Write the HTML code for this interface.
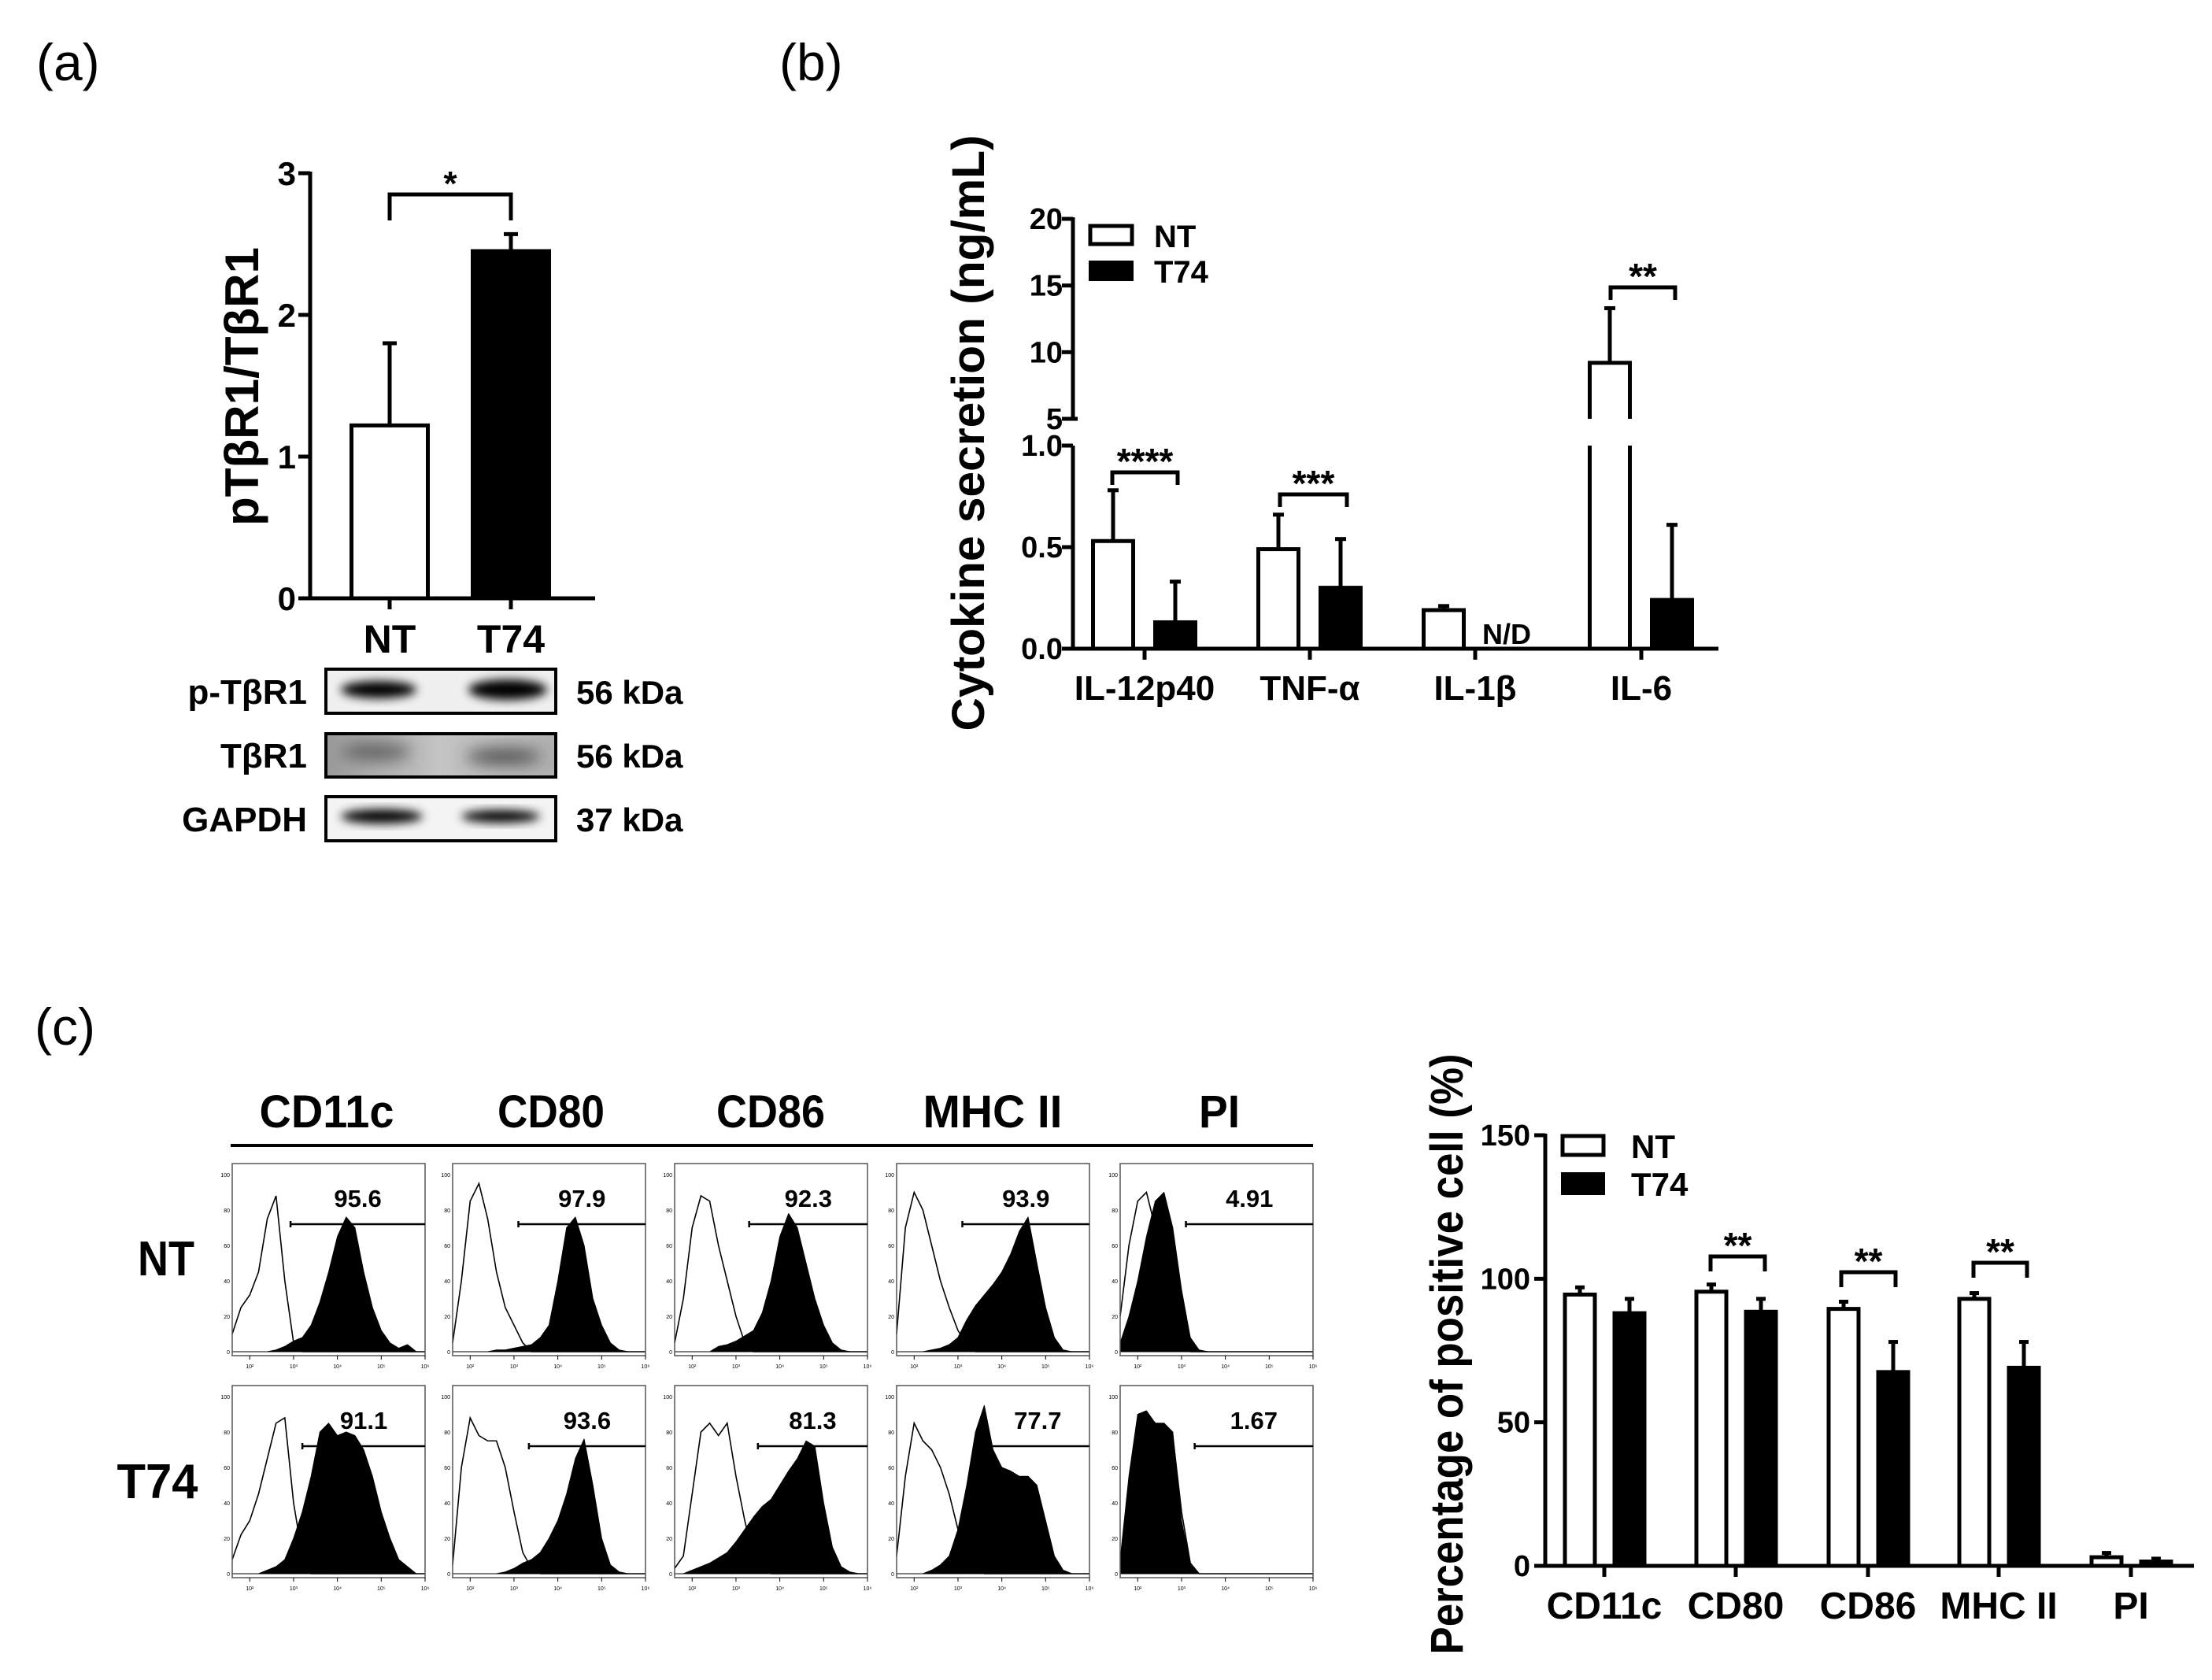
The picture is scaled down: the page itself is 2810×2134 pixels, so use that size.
<!DOCTYPE html>
<html><head><meta charset="utf-8"><style>
html,body{margin:0;padding:0;background:#fff;}
svg{display:block;}
text{font-family:"Liberation Sans",sans-serif;}
</style></head>
<body>
<svg id="fig" xmlns="http://www.w3.org/2000/svg" width="2810" height="2134" viewBox="0 0 2810 2134">
<defs>
<filter id="blur6" x="-20%" y="-50%" width="140%" height="200%"><feGaussianBlur stdDeviation="6"/></filter>
<filter id="blur10" x="-20%" y="-80%" width="140%" height="260%"><feGaussianBlur stdDeviation="10"/></filter>
<linearGradient id="g2" x1="0" x2="1" y1="0" y2="0"><stop offset="0" stop-color="#9a9a9a"/><stop offset="0.5" stop-color="#c4c4c4"/><stop offset="1" stop-color="#b0b0b0"/></linearGradient>
</defs>
<text x="46" y="102" font-size="66">(a)</text>
<text x="990" y="102" font-size="66">(b)</text>
<text x="44" y="1327" font-size="66">(c)</text>

<g>
<rect x="414" y="850" width="292" height="56" fill="#f0f0f0" stroke="#000" stroke-width="4"/>
<ellipse cx="481" cy="876" rx="48" ry="11" fill="#000" filter="url(#blur6)"/>
<ellipse cx="645" cy="876" rx="50" ry="13" fill="#000" filter="url(#blur6)"/>
<rect x="414" y="932" width="292" height="55" fill="url(#g2)" stroke="#000" stroke-width="4"/>
<ellipse cx="478" cy="955" rx="45" ry="9" fill="#555" filter="url(#blur10)"/>
<ellipse cx="640" cy="961" rx="48" ry="9" fill="#444" filter="url(#blur10)"/>
<rect x="414" y="1012" width="292" height="56" fill="#f4f4f4" stroke="#000" stroke-width="4"/>
<ellipse cx="485" cy="1037" rx="52" ry="9" fill="#000" filter="url(#blur6)"/>
<ellipse cx="636" cy="1037" rx="50" ry="8" fill="#000" filter="url(#blur6)"/>
<g font-weight="bold" font-size="44" text-anchor="end">
<text x="390" y="894">p-TβR1</text>
<text x="390" y="975">TβR1</text>
<text x="390" y="1056">GAPDH</text>
</g>
<g font-weight="bold" font-size="42">
<text x="732" y="894">56 kDa</text>
<text x="732" y="975">56 kDa</text>
<text x="732" y="1056">37 kDa</text>
</g>
</g>
<g id="pa"></g><g id="pb"></g><g id="pc"></g><g id="pd"></g>
</svg>
<script>
const NS='http://www.w3.org/2000/svg';
function mk(tag,attrs,parent,txt){const e=document.createElementNS(NS,tag);for(const k in attrs)e.setAttribute(k,attrs[k]);if(txt!==undefined)e.textContent=txt;parent.appendChild(e);return e;}

// ---------- Panel (a) data ----------
const aCats=['NT','T74'];
const aVals=[1.22,2.45];
const aErr=[1.80,2.57];
const aTicks=[0,1,2,3];

// ---------- Panel (b) data ----------
const bCats=['IL-12p40','TNF-α','IL-1β','IL-6'];
const bNT=[0.53,0.49,0.19,9.2];
const bNTerr=[0.78,0.66,0.21,13.3];
const bT74=[0.13,0.30,null,0.24];
const bT74err=[0.33,0.54,null,0.61];
const bTicksLow=[0,0.5,1.0];
const bTickLowLabels=['0.0','0.5','1.0'];
const bTicksHigh=[5,10,15,20];

// ---------- Panel (c) flow histogram data ----------
const markers=['CD11c','CD80','CD86','MHC II','PI'];
const headerWidths=[171,136,138,177,52];
const logBins=[1.6,1.8,2.0,2.2,2.4,2.6,2.8,3.0,3.2,3.4,3.6,3.8,4.0,4.2,4.4,4.6,4.8,5.0,5.2,5.4,5.6,5.8,6.0];
const ntOpen=[
[10,25,32,45,75,88,40,5,0,0,0,0,0,0,0,0,0,0,0,0,0,0,0],
[5,40,85,95,75,45,25,15,5,0,0,0,0,0,0,0,0,0,0,0,0,0,0],
[5,30,70,88,85,60,40,20,5,0,0,0,0,0,0,0,0,0,0,0,0,0,0],
[10,70,90,80,60,40,25,12,4,0,0,0,0,0,0,0,0,0,0,0,0,0,0],
[20,60,85,90,70,40,15,3,0,0,0,0,0,0,0,0,0,0,0,0,0,0,0]];
const ntFilled=[
[0,0,0,0,0,1,3,6,8,15,28,45,65,76,70,45,25,12,5,2,4,0,0],
[0,0,0,0,0,1,1,2,3,4,8,15,40,70,76,60,30,15,5,1,0,0,0],
[0,0,0,0,0,3,4,6,9,12,22,40,65,78,70,50,30,15,5,1,0,0,0],
[0,0,0,0,1,2,4,8,18,26,32,38,45,55,68,76,50,25,8,1,0,0,0],
[5,20,40,65,85,90,70,35,8,1,0,0,0,0,0,0,0,0,0,0,0,0,0]];
const t74Open=[
[8,22,30,45,65,85,88,40,10,0,0,0,0,0,0,0,0,0,0,0,0,0,0],
[5,60,88,78,75,75,60,35,12,3,0,0,0,0,0,0,0,0,0,0,0,0,0],
[3,10,45,80,85,78,85,55,30,10,2,0,0,0,0,0,0,0,0,0,0,0,0],
[10,55,85,75,70,60,45,25,10,2,0,0,0,0,0,0,0,0,0,0,0,0,0],
[5,45,85,90,85,82,78,35,6,0,0,0,0,0,0,0,0,0,0,0,0,0,0]];
const t74Filled=[
[0,0,0,0,2,4,8,20,35,55,80,85,78,80,78,70,55,35,20,8,4,0,0],
[0,0,0,0,0,0,1,3,6,8,12,20,30,45,65,76,50,20,5,1,0,0,0],
[0,0,2,4,6,9,12,18,25,32,38,42,50,58,65,75,72,40,15,4,1,0,0],
[0,0,0,0,2,5,10,25,50,80,95,70,60,58,55,55,50,30,10,2,0,0,0],
[8,55,90,92,85,85,80,30,5,0,0,0,0,0,0,0,0,0,0,0,0,0,0]];
const ntGate=[2.93,3.1,3.3,3.1,3.1];
const t74Gate=[3.2,3.34,3.5,3.64,3.3];
const ntPct=['95.6','97.9','92.3','93.9','4.91'];
const t74Pct=['91.1','93.6','81.3','77.7','1.67'];

// ---------- Panel (c) bar data ----------
const dCats=['CD11c','CD80','CD86','MHC II','PI'];
const dNT=[94.5,95.5,89.5,93,3];
const dNTerr=[97,98,92,95,4.5];
const dT74=[88,88.5,67.5,69,1.5];
const dT74err=[93,93,78,78,2.5];
const dTicks=[0,50,100,150];

// ================= Panel (a) =================
const pa=document.getElementById('pa');
const aY0=760,aY3=220,aX0=394,aX1=756;
const ya=v=>aY0-(v/3)*(aY0-aY3);
const aCx=[495,649];
let el;
el=mk('line',{x1:aX0,y1:ya(0)+2,x2:aX0,y2:aY3-2,stroke:'#000','stroke-width':5},pa);


el=mk('line',{x1:aX0-15,y1:aY0,x2:aX1,y2:aY0,stroke:'#000','stroke-width':5},pa);


aTicks.forEach(t=>{
  mk('line',{x1:aX0-15,y1:ya(t),x2:aX0,y2:ya(t),stroke:'#000','stroke-width':5},pa);
  el=mk('text',{x:376,y:ya(t)+15,'font-size':42,'font-weight':'bold','text-anchor':'end'},pa,String(t));
  
  
});
aCats.forEach((c,i)=>{
  const cx=aCx[i],w=97;
  mk('line',{x1:cx,y1:ya(aVals[i]),x2:cx,y2:ya(aErr[i]),stroke:'#000','stroke-width':5},pa);
  mk('line',{x1:cx-9,y1:ya(aErr[i]),x2:cx+9,y2:ya(aErr[i]),stroke:'#000','stroke-width':5},pa);
  el=mk('rect',{x:cx-w/2,y:ya(aVals[i]),width:w,height:ya(0)-ya(aVals[i]),fill:i?'#000':'#fff',stroke:'#000','stroke-width':5},pa);
  
  
  mk('line',{x1:cx,y1:aY0,x2:cx,y2:aY0+14,stroke:'#000','stroke-width':5},pa);
  el=mk('text',{x:cx,y:829,'font-size':50,'font-weight':'bold','text-anchor':'middle'},pa,c);
  
  
});
el=mk('path',{d:`M${aCx[0]},280 V247 H${aCx[1]} V280`,fill:'none',stroke:'#000','stroke-width':5},pa);


el=mk('text',{x:(aCx[0]+aCx[1])/2,y:248,'font-size':44,'font-weight':'bold','text-anchor':'middle'},pa,'*');


el=mk('text',{x:0,y:0,'font-size':60,'font-weight':'bold','text-anchor':'middle',transform:'translate(328,491) rotate(-90)',textLength:354,lengthAdjust:'spacingAndGlyphs'},pa,'pTβR1/TβR1');



// ================= Panel (b) =================
const pb=document.getElementById('pb');
const bX0=1363,bX1=2183,bLow0=824,bLow1=566,bHi5=532,bHi20=278;
const yb=v=>v<=1?bLow0-v*(bLow0-bLow1):bHi5-(v-5)/15*(bHi5-bHi20);
const bCx=[1454,1664,1874,2085];
el=mk('line',{x1:bX0,y1:bLow0+2,x2:bX0,y2:bLow1,stroke:'#000','stroke-width':5},pb);


el=mk('line',{x1:bX0,y1:bHi5,x2:bX0,y2:bHi20-2,stroke:'#000','stroke-width':5},pb);


el=mk('line',{x1:bX0-14,y1:bLow0,x2:bX1,y2:bLow0,stroke:'#000','stroke-width':5},pb);


bTicksLow.forEach((t,i)=>{
  mk('line',{x1:bX0-14,y1:yb(t),x2:bX0,y2:yb(t),stroke:'#000','stroke-width':5},pb);
  el=mk('text',{x:1350,y:yb(t)+13,'font-size':38,'font-weight':'bold','text-anchor':'end'},pb,bTickLowLabels[i]);
  
  
});
bTicksHigh.forEach(t=>{
  mk('line',{x1:bX0-14,y1:yb(t),x2:bX0+(t===5?6:0),y2:yb(t),stroke:'#000','stroke-width':5},pb);
  el=mk('text',{x:1350,y:yb(t)+13,'font-size':38,'font-weight':'bold','text-anchor':'end'},pb,String(t));
  
  
});
function bBar(cx,v,err,filled,name){
  const w=51,L=cx-w/2,R=cx+w/2;
  mk('line',{x1:cx,y1:yb(v),x2:cx,y2:yb(err),stroke:'#000','stroke-width':5},pb);
  mk('line',{x1:cx-7,y1:yb(err),x2:cx+7,y2:yb(err),stroke:'#000','stroke-width':5},pb);
  if(v<=1){
    el=mk('rect',{x:L,y:yb(v),width:w,height:bLow0-yb(v),fill:filled?'#000':'#fff',stroke:'#000','stroke-width':5},pb);
  } else {
    const d=`M${L},${bLow0} V${bLow1} M${R},${bLow1} V${bLow0} M${L},${bHi5} V${yb(v)} H${R} V${bHi5}`;
    el=mk('path',{d:d,fill:'none',stroke:'#000','stroke-width':5},pb);
  }
  
  
}
bCats.forEach((c,i)=>{
  const cx=bCx[i];
  bBar(cx-40,bNT[i],bNTerr[i],false,'b-bar-nt-'+i);
  if(bT74[i]!==null) bBar(cx+39,bT74[i],bT74err[i],true,'b-bar-t74-'+i);
  else {
    el=mk('text',{x:cx+40,y:818,'font-size':36,'font-weight':'bold','text-anchor':'middle'},pb,'N/D');
    
    
  }
  mk('line',{x1:cx,y1:bLow0,x2:cx,y2:bLow0+14,stroke:'#000','stroke-width':5},pb);
  el=mk('text',{x:cx,y:889,'font-size':44,'font-weight':'bold','text-anchor':'middle'},pb,c);
  
  
});
[[1413,1496,600,'****'],[1626,1711,628,'***'],[2046,2128,365,'**']].forEach(b=>{
  el=mk('path',{d:`M${b[0]},${b[2]+16} V${b[2]} H${b[1]} V${b[2]+16}`,fill:'none',stroke:'#000','stroke-width':5},pb);
  
  
  el=mk('text',{x:(b[0]+b[1])/2,y:b[2]+2,'font-size':46,'font-weight':'bold','text-anchor':'middle'},pb,b[3]);
  
  
});
el=mk('rect',{x:1385,y:287,width:53,height:23,fill:'#fff',stroke:'#000','stroke-width':5},pb);


el=mk('rect',{x:1383,y:331,width:57,height:26,fill:'#000'},pb);


el=mk('text',{x:1466,y:314,'font-size':40,'font-weight':'bold'},pb,'NT');


el=mk('text',{x:1466,y:359,'font-size':40,'font-weight':'bold'},pb,'T74');


el=mk('text',{x:0,y:0,'font-size':58,'font-weight':'bold','text-anchor':'middle',transform:'translate(1250,550) rotate(-90)',textLength:757,lengthAdjust:'spacingAndGlyphs'},pb,'Cytokine secretion (ng/mL)');



// ================= Panel (c) histograms =================
const pc=document.getElementById('pc');
const boxX=[295,575,857,1139,1423];
const hdrX=[415,700,979,1261,1549];
const rowY=[1478,1760];
const BW=245,BH=244;
el=mk('line',{x1:293,y1:1455,x2:1668,y2:1455,stroke:'#000','stroke-width':4},pc);


markers.forEach((m,i)=>{
  el=mk('text',{x:hdrX[i],y:1432,'font-size':58,'font-weight':'bold','text-anchor':'middle',textLength:headerWidths[i],lengthAdjust:'spacingAndGlyphs'},pc,m);
  
  
});
el=mk('text',{x:211,y:1620,'font-size':62,'font-weight':'bold','text-anchor':'middle',textLength:72,lengthAdjust:'spacingAndGlyphs'},pc,'NT');


el=mk('text',{x:200,y:1903,'font-size':62,'font-weight':'bold','text-anchor':'middle',textLength:103,lengthAdjust:'spacingAndGlyphs'},pc,'T74');


const sup=['⁰','¹','²','³','⁴','⁵','⁶'];
function hist(bx,by,open,filled,gate,pct,name){
  const hx=L=>bx+(L-1.6)/4.4*BW;
  const hy=p=>by+BH-5-p*2.25;
  const g=mk('g',{},pc);
  
  
  let d=`M${hx(logBins[0])},${hy(0)}`;
  logBins.forEach((L,k)=>{d+=` L${hx(L)},${hy(filled[k])}`;});
  d+=` L${hx(6)},${hy(0)} Z`;
  el=mk('path',{d:d,fill:'#000',stroke:'#000','stroke-width':1,'stroke-linejoin':'round'},g);
  
  
  let d2='';
  logBins.forEach((L,k)=>{d2+=(k?' L':'M')+hx(L)+','+hy(open[k]);});
  el=mk('path',{d:d2,fill:'none',stroke:'#000','stroke-width':1.6},g);
  
  
  el=mk('rect',{x:bx,y:by,width:BW,height:BH,fill:'none',stroke:'#555','stroke-width':1.5},g);
  
  
  const gy=hy(72);
  el=mk('path',{d:`M${hx(gate)},${gy-4} V${gy+4} M${hx(gate)},${gy} H${bx+BW}`,fill:'none',stroke:'#000','stroke-width':2.5},g);
  
  
  el=mk('text',{x:(hx(gate)+bx+BW)/2,y:gy-22,'font-size':31,'font-weight':'bold','text-anchor':'middle'},g,pct);
  
  
  [0,20,40,60,80,100].forEach(t=>{mk('text',{x:bx-3,y:hy(t)+3,'font-size':7,'text-anchor':'end'},g,String(t));});
  [2,3,4,5,6].forEach(t=>{if(hx(t)<=bx+BW+1){mk('line',{x1:hx(t),y1:by+BH,x2:hx(t),y2:by+BH+5,stroke:'#000','stroke-width':1},g);mk('text',{x:hx(t),y:by+BH+16,'font-size':7,'text-anchor':'middle'},g,'10'+sup[t]);}});
}
markers.forEach((m,i)=>{
  hist(boxX[i],rowY[0],ntOpen[i],ntFilled[i],ntGate[i],ntPct[i],'c-histogram-nt-'+i);
  hist(boxX[i],rowY[1],t74Open[i],t74Filled[i],t74Gate[i],t74Pct[i],'c-histogram-t74-'+i);
});

// ================= Panel (c) bar chart =================
const pd=document.getElementById('pd');
const dX0=1963,dX1=2787,dY0=1989,dY150=1442;
const yd=v=>dY0-v/150*(dY0-dY150);
const dCx=[2038,2205,2373,2539,2707];
el=mk('line',{x1:dX0,y1:dY0+2,x2:dX0,y2:dY150-2,stroke:'#000','stroke-width':5},pd);


el=mk('line',{x1:dX0-14,y1:dY0,x2:dX1,y2:dY0,stroke:'#000','stroke-width':5},pd);


dTicks.forEach(t=>{
  mk('line',{x1:dX0-14,y1:yd(t),x2:dX0,y2:yd(t),stroke:'#000','stroke-width':5},pd);
  el=mk('text',{x:1944,y:yd(t)+13,'font-size':38,'font-weight':'bold','text-anchor':'end'},pd,String(t));
  
  
});
dCats.forEach((c,i)=>{
  const cx=dCx[i],w=38;
  [[cx-31,dNT[i],dNTerr[i],false],[cx+32,dT74[i],dT74err[i],true]].forEach((b,j)=>{
    mk('line',{x1:b[0],y1:yd(b[1]),x2:b[0],y2:yd(b[2]),stroke:'#000','stroke-width':5},pd);
    mk('line',{x1:b[0]-6,y1:yd(b[2]),x2:b[0]+6,y2:yd(b[2]),stroke:'#000','stroke-width':5},pd);
    el=mk('rect',{x:b[0]-w/2,y:yd(b[1]),width:w,height:dY0-yd(b[1]),fill:b[3]?'#000':'#fff',stroke:'#000','stroke-width':5},pd);
    
    
  });
  mk('line',{x1:cx,y1:dY0,x2:cx,y2:dY0+14,stroke:'#000','stroke-width':5},pd);
  el=mk('text',{x:cx,y:2056,'font-size':48,'font-weight':'bold','text-anchor':'middle'},pd,c);
  
  
});
[[2173,2242,1596],[2339,2408,1616],[2507,2575,1604]].forEach(b=>{
  el=mk('path',{d:`M${b[0]},${b[2]+19} V${b[2]} H${b[1]} V${b[2]+19}`,fill:'none',stroke:'#000','stroke-width':5},pd);
  
  
  el=mk('text',{x:(b[0]+b[1])/2,y:b[2]+2,'font-size':46,'font-weight':'bold','text-anchor':'middle'},pd,'**');
  
  
});
el=mk('rect',{x:1985,y:1443,width:52,height:24,fill:'#fff',stroke:'#000','stroke-width':5},pd);


el=mk('rect',{x:1983,y:1489,width:56,height:29,fill:'#000'},pd);


el=mk('text',{x:2072,y:1471,'font-size':42,'font-weight':'bold'},pd,'NT');


el=mk('text',{x:2072,y:1519,'font-size':42,'font-weight':'bold'},pd,'T74');


el=mk('text',{x:0,y:0,'font-size':58,'font-weight':'bold','text-anchor':'middle',transform:'translate(1858,1720) rotate(-90)',textLength:763,lengthAdjust:'spacingAndGlyphs'},pd,'Percentage of positive cell (%)');


</script>
</body></html>
